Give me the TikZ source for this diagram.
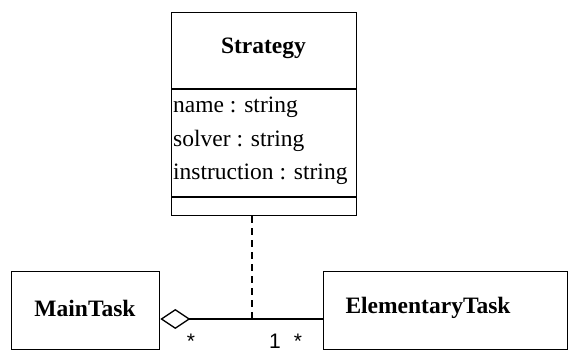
\documentclass[tikz,border=0pt]{standalone}
\usepackage{fontspec}
\setmainfont{Liberation Serif}
\newfontfamily\lblfont{Liberation Sans}
\usetikzlibrary{arrows.meta}
\begin{document}
\begin{tikzpicture}[x=1pt,y=-1pt,
  classbox/.style={draw,line width=1.3pt,rectangle,inner sep=0pt,anchor=north west},
  title/.style={font=\fontsize{23.5}{26}\selectfont\bfseries},
  attr/.style={font=\fontsize{23.5}{26}\selectfont,anchor=west,inner sep=0pt},
  mult/.style={font=\lblfont\fontsize{21}{22}\selectfont,inner sep=0pt},
  conn/.style={line width=1.3pt}]
\useasboundingbox[fill=white] (0,0) rectangle (568,352);
% Strategy class
\node[classbox,minimum width=185pt,minimum height=203pt] (strat) at (171,12) {};
\draw[conn] (171,89) -- (356,89);
\draw[conn] (171,197) -- (356,197);
\node[title] (stratname) at (263.5,48) {Strategy};
\node[attr] (a1) at (173,107) {name : string};
\node[attr] (a2) at (173,141) {solver : string};
\node[attr] (a3) at (173,174) {instruction : string};
% MainTask
\node[classbox,minimum width=148pt,minimum height=78pt] (main) at (11,271) {};
\node[title] (maintxt) at (85,308) {MainTask};
% ElementaryTask
\node[classbox,minimum width=244pt,minimum height=78pt] (elem) at (323,271) {};
\node[title] (elemtxt) at (428,308) {ElementaryTask};
% connectors
\coordinate (j) at (252,319);
\draw[conn,-{Diamond[open,length=30pt,width=20pt,line width=1.3pt]}] (elem.west |- j) -- (main.east |- j);
\draw[conn,dash pattern=on 7pt off 5pt] (strat.south -| j) -- (j);
% multiplicities
\node[mult] (m1) at (191,341) {*};
\node[mult] (m2) at (275,341) {1};
\node[mult] (m3) at (298,341) {*};
\end{tikzpicture}
\end{document}
